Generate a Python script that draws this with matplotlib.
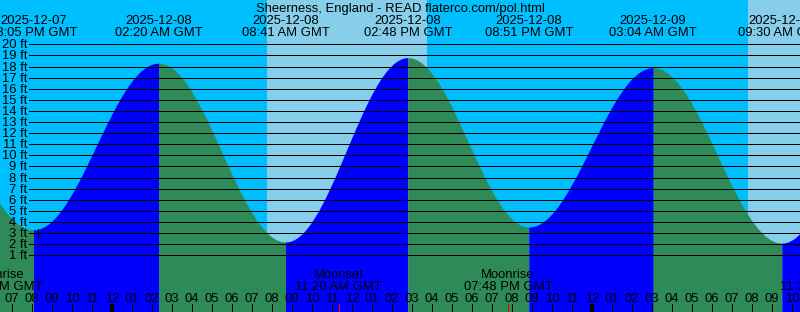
import matplotlib
matplotlib.use("Agg")
import matplotlib.pyplot as plt
import matplotlib.transforms as mtransforms
import numpy as np
from datetime import datetime

# ---------------- data ----------------
title = "Sheerness, England - READ flaterco.com/pol.html"
tide_times = ["2025-12-07 13:40", "2025-12-07 20:05", "2025-12-08 02:20",
              "2025-12-08 08:41", "2025-12-08 14:48", "2025-12-08 20:51",
              "2025-12-09 03:04", "2025-12-09 09:30", "2025-12-09 15:35"]
tide_heights = [17.9, 3.3, 18.3, 2.2, 18.8, 3.55, 17.9, 2.1, 18.4]
moon_times = ["2025-12-07 18:18", "2025-12-08 11:20", "2025-12-08 19:48", "2025-12-09 11:36"]
moon_events = ["Moonrise", "Moonset", "Moonrise", "Moonset"]
sunrise_times = ["2025-12-08 07:46", "2025-12-09 07:47"]
sunset_times = ["2025-12-08 15:46", "2025-12-09 15:46"]
marker_time = "2025-12-07 20:17"
marker_height = 3.0
view_start = "2025-12-07 18:25"
view_hours = 40
ft_levels = list(range(1, 21))

# ---------------- helpers ----------------
origin = datetime(2025, 12, 8, 0, 0)
fmt = "%Y-%m-%d %H:%M"


def hrs(s):
    return (datetime.strptime(s, fmt) - origin).total_seconds() / 3600.0


NIGHT = "#00BFFF"
DAY = "#87CEEB"
RISE = "#0000FF"
FALL = "#2E8B57"
FONT = "Liberation Sans"
FS = 9.4
LW = 0.6

fig = plt.figure(figsize=(8, 3.12), dpi=100)
ax = fig.add_axes([0, 0, 1, 1])
ax.set_axis_off()
x0 = hrs(view_start) - 0.5 / 60
x1 = x0 + view_hours
ax.set_xlim(x0, x1)
ax.set_ylim(-4.106, 23.99)
fig.patch.set_facecolor(NIGHT)
ax.add_patch(plt.Rectangle((0, 0), 1, 1, transform=ax.transAxes, color=NIGHT, zorder=0))

# daylight bands
for sr, ss in zip(sunrise_times, sunset_times):
    ax.axvspan(hrs(sr), hrs(ss), color=DAY, zorder=1, lw=0)

# tide curve (cosine between extremes)
ybot = ax.get_ylim()[0]
th = [hrs(t) for t in tide_times]
for i in range(len(th) - 1):
    ta, tb = th[i], th[i + 1]
    ha, hb = tide_heights[i], tide_heights[i + 1]
    t = np.linspace(ta, tb, 300)
    h = ha + (hb - ha) * (1 - np.cos(np.pi * (t - ta) / (tb - ta))) / 2
    col = RISE if hb > ha else FALL
    ax.fill_between(t, ybot, h, color=col, lw=0, zorder=2, antialiased=False)

# horizontal ft lines
for v in ft_levels:
    ax.axhline(v, xmin=29 / 800, xmax=1, color="black", lw=LW, zorder=3, antialiased=False)

# y labels
ylab_tr = mtransforms.offset_copy(
    mtransforms.blended_transform_factory(ax.transAxes, ax.transData), fig=fig, x=0, y=-4, units="dots")
for v in ft_levels:
    ax.text(27 / 800, v, f"{v} ft", transform=ylab_tr, ha="right", va="baseline",
            fontsize=FS, family=FONT, zorder=5)

xt = ax.get_xaxis_transform()

# marker
ax.vlines(hrs(marker_time), marker_height - 0.35, marker_height + 0.35, color="black", lw=LW,
          zorder=4, antialiased=False)

# title
fig.text(0.5, 1 - 12 / 312, title, ha="center", va="baseline", fontsize=FS, family=FONT)

# tide event labels
for t, tt in zip(th, tide_times):
    d = datetime.strptime(tt, fmt)
    ax.text(t, 1 - 24 / 312, d.strftime("%Y-%m-%d"), transform=xt, ha="center", va="baseline",
            fontsize=FS, family=FONT, zorder=5, clip_on=False)
    ax.text(t, 1 - 36 / 312, d.strftime("%I:%M %p GMT"), transform=xt, ha="center", va="baseline",
            fontsize=FS, family=FONT, zorder=5, clip_on=False)

# hour ticks
for hh in range(int(np.ceil(x0)), int(np.floor(x1)) + 1):
    midnight = (hh % 24 == 0)
    ax.vlines(hh, 0, 8 / 312, transform=xt, color="black", lw=1.5 if midnight else LW,
              zorder=4, antialiased=False)
    lab = (hh % 12) or 12
    ax.text(hh, 1 - 301.7 / 312, f"{lab:02d}", transform=xt, ha="center", va="baseline",
            fontsize=FS, family=FONT, zorder=5)

# moon events
for mt, ev in zip(moon_times, moon_events):
    t = hrs(mt)
    d = datetime.strptime(mt, fmt)
    ax.vlines(t, 0, 8 / 312, transform=xt, color="red", lw=LW, zorder=4, antialiased=False)
    ax.text(t, 1 - 277.7 / 312, ev, transform=xt, ha="center", va="baseline",
            fontsize=FS, family=FONT, zorder=5)
    ax.text(t, 1 - 290 / 312, d.strftime("%I:%M %p GMT"), transform=xt, ha="center", va="baseline",
            fontsize=FS, family=FONT, zorder=5)

fig.savefig("out.png", dpi=100, facecolor=NIGHT)
